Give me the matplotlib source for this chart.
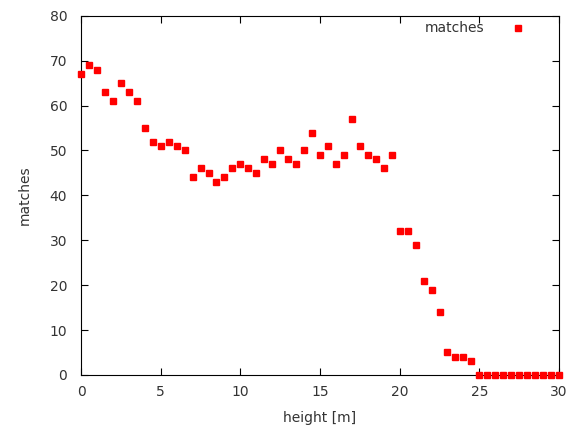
import matplotlib
matplotlib.use('Agg')
import matplotlib.pyplot as plt
import numpy as np

# height in m, 0.5 m steps
height = np.arange(0, 30.5, 0.5)
matches = [67, 69, 68, 63, 61, 65, 63, 61, 55, 52,
           51, 52, 51, 50, 44, 46, 45, 43, 44, 46,
           47, 46, 45, 48, 47, 50, 48, 47, 50, 54,
           49, 51, 47, 49, 57, 51, 49, 48, 46, 49,
           32, 32, 29, 21, 19, 14, 5, 4, 4, 3,
           0, 0, 0, 0, 0, 0, 0, 0, 0, 0, 0]
x_ticks = [0, 5, 10, 15, 20, 25, 30]
y_ticks = [0, 10, 20, 30, 40, 50, 60, 70, 80]

fig = plt.figure(figsize=(5.71, 4.28), dpi=100)
ax = fig.add_axes([0.142, 0.124, 0.837, 0.839])

ax.plot(height, matches, linestyle='none', marker='s', markersize=5,
        color='#ff0000', label='matches', clip_on=False, zorder=3)

ax.set_xlim(0, 30)
ax.set_ylim(0, 80)
ax.set_xticks(x_ticks)
ax.set_yticks(y_ticks)
ax.tick_params(axis='x', pad=7)
ax.tick_params(axis='y', pad=10)
ax.tick_params(direction='in', length=5, width=0.8, top=True, right=True,
               labelsize=10, labelcolor='#333333')
ax.set_xlabel('height [m]', fontsize=10, color='#333333', labelpad=9)
ax.set_ylabel('matches', fontsize=10, color='#333333', labelpad=13)
for s in ax.spines.values():
    s.set_linewidth(0.8)

# gnuplot-like key: text left, sample on the right
leg = ax.legend(loc='upper right', bbox_to_anchor=(0.983, 1.0), frameon=False,
                markerfirst=False, fontsize=10, handlelength=4,
                handletextpad=0.4, borderaxespad=0)
for t in leg.get_texts():
    t.set_color('#333333')

fig.savefig('out.png', dpi=100)
